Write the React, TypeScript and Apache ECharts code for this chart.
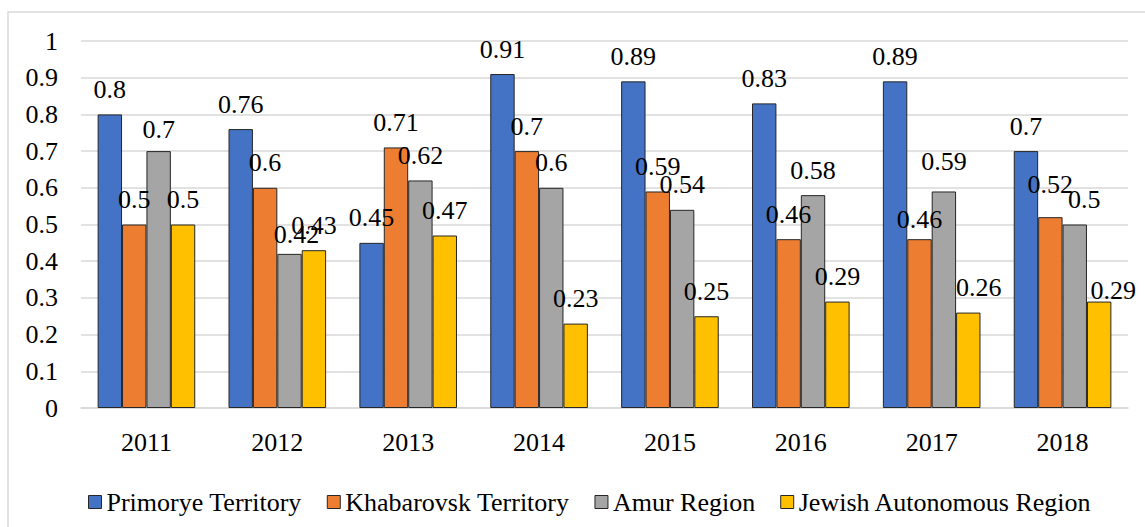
import React, { useEffect, useRef } from "react";
import * as echarts from "echarts";

const years = ["2011", "2012", "2013", "2014", "2015", "2016", "2017", "2018"];
const seriesNames = [
  "Primorye Territory",
  "Khabarovsk Territory",
  "Amur Region",
  "Jewish Autonomous Region",
];
const primorye = [0.8, 0.76, 0.45, 0.91, 0.89, 0.83, 0.89, 0.7];
const khabarovsk = [0.5, 0.6, 0.71, 0.7, 0.59, 0.46, 0.46, 0.52];
const amur = [0.7, 0.42, 0.62, 0.6, 0.54, 0.58, 0.59, 0.5];
const jewish = [0.5, 0.43, 0.47, 0.23, 0.25, 0.29, 0.26, 0.29];
const yTicks = [0, 0.1, 0.2, 0.3, 0.4, 0.5, 0.6, 0.7, 0.8, 0.9, 1];

const colors = ["#4472C4", "#ED7D31", "#A5A5A5", "#FFC000"];
// label nudges (series index -> category index -> [dx, dy])
const labelNudges: Record<number, Record<number, [number, number]>> = {
  1: { 6: [0, 5], 7: [0, -8] },
  2: { 0: [0, 3], 1: [7, 5.5], 6: [0, -5], 7: [9.5, 0] },
  3: { 6: [10.5, 0], 7: [14, 14] },
};

const FONT = "Liberation Serif";

export default function App() {
  const ref = useRef<HTMLDivElement>(null);
  useEffect(() => {
    if (!ref.current) return;
    const chart = echarts.init(ref.current, null, { renderer: "svg" });
    const allData = [primorye, khabarovsk, amur, jewish];
    const series = allData.map((vals, si) => ({
      name: seriesNames[si],
      type: "bar",
      barWidth: 24.4,
      barGap: "0%",
      itemStyle: { color: colors[si], borderColor: "#262626", borderWidth: 1 },
      label: {
        show: true,
        position: "top",
        distance: 12,
        fontFamily: FONT,
        fontSize: 26,
        color: "#000",
      },
      data: vals.map((v, ci) => {
        const n = labelNudges[si] && labelNudges[si][ci];
        return n ? { value: v, label: { offset: n } } : v;
      }),
    }));
    chart.setOption({
      animation: false,
      color: colors,
      graphic: [
        {
          type: "rect",
          shape: { x: 8, y: 12, width: 1150, height: 530 },
          style: { fill: "none", stroke: "#d9d9d9", lineWidth: 1.5 },
          silent: true,
        },
      ],
      grid: { left: 81, right: 17, top: 41, bottom: 119 },
      legend: {
        data: seriesNames,
        left: 83,
        top: 484,
        icon: "rect",
        itemWidth: 13,
        itemHeight: 13,
        itemGap: 25,
        itemStyle: { borderColor: "#262626", borderWidth: 1 },
        textStyle: { fontFamily: FONT, fontSize: 26, color: "#000" },
      },
      xAxis: {
        type: "category",
        data: years,
        axisTick: { show: false },
        axisLine: { lineStyle: { color: "#d9d9d9", width: 1.5 } },
        axisLabel: { fontFamily: FONT, fontSize: 26, color: "#000", margin: 21 },
      },
      yAxis: {
        type: "value",
        min: yTicks[0],
        max: yTicks[yTicks.length - 1],
        interval: 0.1,
        axisLine: { show: false },
        axisTick: { show: false },
        splitLine: { lineStyle: { color: "#d9d9d9", width: 1.5 } },
        axisLabel: {
          fontFamily: FONT,
          fontSize: 26,
          color: "#000",
          margin: 23,
        },
      },
      series,
    });
    return () => chart.dispose();
  }, []);
  return (
    <div
      ref={ref}
      style={{ position: "absolute", left: 0, top: 0, width: 1145, height: 527 }}
    />
  );
}
